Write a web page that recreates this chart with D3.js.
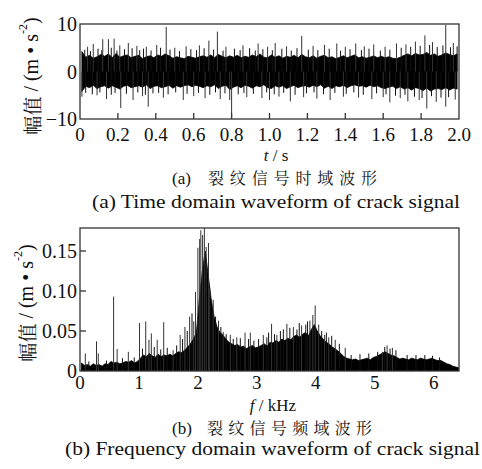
<!DOCTYPE html>
<html><head><meta charset="utf-8">
<script src="https://cdn.jsdelivr.net/npm/d3@7"></script>
<style>
html,body{margin:0;padding:0;background:#fff;}
svg{display:block;}
</style></head><body>
<svg id="chart" width="482" height="469"></svg>
<script>
// ---------- Panel (a): time domain envelope, 0.02 s bins ----------
const timeBin = 0.02;
const timeHi = [4.2,3.0,3.4,2.8,3.1,3.6,3.2,3.7,2.9,3.8, 3.0,3.3,3.5,2.9,3.2,3.4,2.7,3.1,3.3,2.9,
  3.5,3.2,3.7,3.3,2.8,3.1,2.9,2.7,3.2,3.0, 2.8,3.1,3.3,3.0,3.5,2.9,3.6,3.2,2.9,3.3,
  3.0,3.4,2.9,3.2,3.0,3.5,3.1,3.7,3.0,2.9, 3.5,3.0,3.3,2.8,3.2,3.0,3.4,2.9,3.6,3.1,
  2.9,3.3,2.8,3.2,3.4,2.9,3.1,2.7,3.0,3.3, 2.9,3.2,3.5,2.9,3.1,2.8,3.0,3.3,2.9,3.2,
  2.9,3.1,2.8,2.7,3.0,3.4,3.7,3.3,3.8,3.5, 3.6,4.0,3.4,3.7,3.2,3.5,3.9,3.6,3.3,3.7];
const timeLo = [-4.2,-3.1,-3.4,-2.9,-3.6,-3.2,-3.0,-3.5,-3.0,-3.3, -3.7,-3.1,-2.9,-3.4,-3.2,-3.0,-3.3,-2.8,-3.6,-3.1,
  -3.0,-3.4,-3.2,-2.9,-3.5,-3.0,-3.3,-3.0,-2.8,-3.2, -2.9,-3.1,-3.4,-3.0,-3.2,-2.8,-3.6,-3.1,-2.9,-3.8,
  -3.3,-3.0,-3.4,-2.9,-3.1,-3.5,-3.0,-3.2,-2.8,-3.4, -3.6,-3.0,-3.3,-3.0,-3.6,-3.2,-2.9,-3.4,-3.1,-3.0,
  -3.3,-2.9,-3.2,-2.8,-3.5,-3.1,-3.6,-3.0,-3.2,-2.9, -3.4,-3.0,-2.8,-3.1,-3.0,-3.3,-2.9,-3.2,-3.0,-3.4,
  -3.6,-3.3,-3.1,-3.6,-3.2,-3.7,-3.4,-3.9,-3.4,-3.6, -4.0,-3.5,-4.1,-3.7,-3.6,-3.8,-3.4,-3.9,-3.5,-3.7];
// fine hairs sticking out of the solid band
const timeHairT = [0.025,0.055,0.095,0.115,0.165,0.195,0.235,0.275,0.315,0.335,0.375,0.425,0.475,0.525,0.585,0.615,0.655,0.705,0.755,0.815,
  0.845,0.895,0.925,0.965,1.015,1.065,1.115,1.145,1.205,1.255,1.315,1.375,1.425,1.485,1.525,1.585,1.635,1.695,1.745,1.795,1.845,1.885,1.915,1.955,1.99,
  0.03,0.065,0.105,0.165,0.185,0.245,0.305,0.345,0.385,0.415,0.465,0.505,0.565,0.625,0.685,0.715,0.765,0.835,0.865,0.915,
  0.985,1.025,1.075,1.135,1.195,1.235,1.285,1.345,1.405,1.445,1.495,1.565,1.615,1.665,1.715,1.765,1.805,1.855,1.905,1.945];
const timeHairV = [4.6,4.3,4.8,4.5,5.0,4.4,4.7,4.9,4.5,4.8,4.4,5.0,4.6,4.3,4.7,4.5,4.9,4.6,4.4,4.8,
  4.5,4.9,4.4,4.7,4.5,4.8,4.4,4.9,4.6,4.5,4.8,4.4,4.7,4.5,4.8,4.4,4.6,5.0,5.2,5.4,5.6,5.2,5.5,5.1,5.3,
  -4.5,-4.8,-4.4,-4.9,-4.5,-4.7,-4.4,-4.9,-4.6,-4.5,-4.8,-4.4,-4.7,-4.5,-4.9,-4.4,-4.6,-4.8,-4.5,-4.7,
  -4.4,-4.8,-4.5,-4.9,-4.6,-4.4,-4.8,-4.5,-4.7,-4.4,-4.9,-4.6,-4.8,-5.1,-4.9,-5.3,-5.6,-5.2,-5.5,-5.4];
// tall isolated spikes
const timeSpikeT = [0.04,0.07,0.12,0.15,0.18,0.21,0.255,0.30,0.35,0.405,0.455,0.50,0.56,0.63,0.68,0.725,0.77,0.86,0.94,0.99,
  1.03,1.09,1.17,1.23,1.29,1.355,1.40,1.455,1.50,1.55,1.61,1.67,1.72,1.77,1.82,1.86,1.93,1.97,
  0.01,0.09,0.14,0.215,0.28,0.33,0.36,0.44,0.545,0.60,0.66,0.74,0.79,0.80,0.88,0.96,1.00,1.05,1.11,1.18,
  1.25,1.32,1.39,1.47,1.54,1.60,1.635,1.69,1.73,1.79,1.83,1.88,1.93,1.98];
const timeSpikeV = [5.2,5.8,6.8,6.8,6.9,5.5,6.0,5.4,5.2,5.6,9.4,5.0,5.3,5.5,6.5,8.4,5.2,5.5,5.9,5.2,
  6.0,5.3,7.5,5.4,5.6,5.9,5.2,5.9,5.3,5.7,5.2,5.9,5.7,6.3,7.6,6.2,9.8,6.0,
  -5.3,-5.0,-5.8,-7.7,-6.0,-5.2,-7.4,-5.5,-6.0,-5.2,-5.6,-5.8,-6.0,-9.9,-5.4,-5.6,-6.0,-5.3,-6.3,-5.4,
  -5.7,-6.0,-5.3,-5.5,-5.8,-5.4,-6.5,-5.6,-6.3,-6.0,-7.8,-6.4,-7.4,-5.9];
const timeTicks = [0,0.2,0.4,0.6,0.8,1.0,1.2,1.4,1.6,1.8,2.0];
const ampTicksA = [-10,0,10];

// ---------- Panel (b): frequency spectrum envelope, 0.05 kHz bins ----------
const freqBin = 0.05;
const freqPeak = [0.010,0.007,0.008,0.006,0.009,0.007,0.008,0.006,0.009,0.008,
  0.012,0.010,0.011,0.009,0.010,0.012,0.011,0.013,0.010,0.012,
  0.016,0.020,0.018,0.022,0.019,0.017,0.021,0.018,0.020,0.019,
  0.021,0.019,0.022,0.024,0.023,0.026,0.030,0.034,0.040,0.048,
  0.090,0.125,0.150,0.120,0.090,0.068,0.055,0.048,0.045,0.040,
  0.036,0.034,0.032,0.033,0.030,0.031,0.028,0.030,0.032,0.029,
  0.030,0.032,0.034,0.031,0.036,0.035,0.038,0.036,0.040,0.038,
  0.041,0.039,0.043,0.045,0.042,0.046,0.048,0.044,0.052,0.058,
  0.050,0.044,0.040,0.036,0.034,0.030,0.028,0.025,0.022,0.018,
  0.016,0.015,0.014,0.015,0.013,0.014,0.015,0.016,0.014,0.017,
  0.018,0.020,0.022,0.024,0.022,0.020,0.019,0.017,0.015,0.016,
  0.015,0.014,0.016,0.015,0.014,0.016,0.015,0.014,0.015,0.016,
  0.014,0.013,0.013,0.011,0.009,0.008,0.006,0.005,0.004];
const freqHairF = [0.15,0.45,0.72,0.92,1.06,1.26,1.37,1.48,1.64,1.74,1.82,1.90,2.24,2.30,2.39,2.48,2.60,2.72,2.86,2.95,
  3.03,3.17,3.20,3.30,3.40,3.45,3.56,3.68,3.72,3.83,3.86,4.10,4.18,4.27,4.40,4.60,4.75,4.90,5.05,5.17,5.26,5.36,5.55,5.70,5.85,5.98,6.10];
const freqHairV = [0.012,0.013,0.016,0.017,0.028,0.030,0.027,0.029,0.032,0.040,0.050,0.072,0.075,0.068,0.055,0.046,0.040,0.041,0.040,0.038,
  0.040,0.042,0.048,0.046,0.050,0.052,0.054,0.052,0.060,0.058,0.062,0.050,0.048,0.044,0.034,0.020,0.021,0.022,0.024,0.030,0.028,0.026,0.020,0.020,0.020,0.019,0.017];
const freqSpikeF = [0.09,0.28,0.31,0.57,0.63,0.82,1.01,1.115,1.17,1.21,1.31,1.42,1.58,1.70,1.78,1.86,1.93,1.96,
  2.00,2.03,2.05,2.08,2.11,2.14,2.18,2.20,2.26,2.35,2.43,2.55,2.66,2.80,2.89,3.11,3.25,3.34,3.51,3.62,3.76,
  3.90,3.95,3.99,4.05,4.15,4.22,4.33,4.50,5.13,5.21,5.30];
const freqSpikeV = [0.022,0.037,0.022,0.093,0.0275,0.024,0.060,0.062,0.039,0.047,0.039,0.061,0.026,0.045,0.055,0.068,0.062,0.099,
  0.154,0.165,0.176,0.170,0.180,0.155,0.160,0.104,0.089,0.063,0.049,0.045,0.042,0.048,0.048,0.045,0.059,0.045,0.059,0.055,0.057,
  0.063,0.070,0.082,0.058,0.045,0.042,0.039,0.029,0.024,0.032,0.029];
const freqTicks = [0,1,2,3,4,5,6];
const ampTicksB = [0,0.05,0.10,0.15];

const SERIF = '"Liberation Serif", "Times New Roman", serif';
const CJK = '"Noto Serif CJK SC", "Noto Sans CJK SC", serif';
const svg = d3.select("#chart");
const defs = svg.append("defs");

function txt(sel, size, fam){
  return sel.style("font-family", fam || SERIF).style("font-size", size + "px").style("fill", "#111");
}
function frame(g, x0, y0, x1, y1){
  g.append("rect").attr("x",x0).attr("y",y0).attr("width",x1-x0).attr("height",y1-y0)
    .attr("fill","none").attr("stroke","#333").attr("stroke-width",1.3);
}
function ylabel(cx, cy){
  const t = txt(svg.append("text").attr("transform",`translate(${cx},${cy}) rotate(-90)`)
    .attr("text-anchor","middle").attr("dominant-baseline","central"), 20);
  t.append("tspan").style("font-family",CJK).style("font-size","19px").text("幅值");
  t.append("tspan").text(" / (m • s");
  t.append("tspan").attr("dy","-8").style("font-size","12px").text("-2");
  t.append("tspan").attr("dy","8").text(")");
}
function spikes(g, xs, vs, x, y, color){
  g.append("g").selectAll("line").data(xs).join("line")
    .attr("x1",d=>x(d)).attr("x2",d=>x(d)).attr("y1",y(0))
    .attr("y2",(d,i)=>y(vs[i])).attr("stroke",color).attr("stroke-width",1);
}

// ===== Panel (a) =====
const xA = d3.scaleLinear().domain([0,2]).range([80,459]);
const yA = d3.scaleLinear().domain([-10,10]).range([119,24]);
defs.append("clipPath").attr("id","clipA").append("rect").attr("x",80).attr("y",24).attr("width",379).attr("height",95);
const gA = svg.append("g");
const dA = gA.append("g").attr("clip-path","url(#clipA)");
const areaA = d3.area().x((d,i)=>xA(i*timeBin+timeBin/2)).y0((d,i)=>yA(timeLo[i])).y1(d=>yA(d));
dA.append("path").datum(timeHi).attr("d",areaA).attr("fill","#000").attr("stroke","#000").attr("stroke-width",0.8);
spikes(dA, timeHairT, timeHairV, xA, yA, "#111");
spikes(dA, timeSpikeT, timeSpikeV, xA, yA, "#333");
frame(gA,80,24,459,119);
gA.selectAll("line.tk").data(timeTicks.slice(1,-1)).join("line")
  .attr("x1",d=>xA(d)).attr("x2",d=>xA(d)).attr("y1",119).attr("y2",113).attr("stroke","#333").attr("stroke-width",1.3);
txt(gA.selectAll("text.xt").data(timeTicks).join("text")
  .attr("x",d=>xA(d)).attr("y",141).attr("text-anchor","middle"), 19)
  .text(d=>d===0?"0":d3.format(".1f")(d));
txt(gA.selectAll("text.yt").data(ampTicksA).join("text")
  .attr("x",77).attr("y",d=>yA(d)+7).attr("text-anchor","end"), 20)
  .text(d=>d<0?"\u2212"+(-d):d);
const ts = txt(svg.append("text").attr("x",276).attr("y",161).attr("text-anchor","middle"), 17);
ts.append("tspan").style("font-style","italic").text("t");
ts.append("tspan").text(" / s");
txt(svg.append("text").attr("x",172).attr("y",184), 17).text("(a)");
txt(svg.append("text").attr("x",208).attr("y",184).attr("textLength",169).attr("lengthAdjust","spacing"), 16, CJK)
  .text("裂纹信号时域波形");
txt(svg.append("text").attr("x",92).attr("y",208).attr("textLength",368).attr("lengthAdjust","spacingAndGlyphs"), 18)
  .text("(a)  Time domain waveform of crack signal");
ylabel(31,76);

// ===== Panel (b) =====
const xB = d3.scaleLinear().domain([0,6.43]).range([80,459]);
const yB = d3.scaleLinear().domain([0,0.18]).range([371,227]);
defs.append("clipPath").attr("id","clipB").append("rect").attr("x",80).attr("y",228).attr("width",379).attr("height",143);
const gB = svg.append("g");
const dB = gB.append("g").attr("clip-path","url(#clipB)");
const areaB = d3.area().x((d,i)=>xB(i*freqBin+freqBin/2)).y0(yB(0)).y1(d=>yB(d));
dB.append("path").datum(freqPeak).attr("d",areaB).attr("fill","#000").attr("stroke","#000").attr("stroke-width",0.8);
spikes(dB, freqHairF, freqHairV, xB, yB, "#111");
spikes(dB, freqSpikeF, freqSpikeV, xB, yB, "#333");
frame(gB,80,228,459,371);
gB.selectAll("line.tk").data(ampTicksB.slice(1)).join("line")
  .attr("x1",80).attr("x2",86).attr("y1",d=>yB(d)).attr("y2",d=>yB(d)).attr("stroke","#333").attr("stroke-width",1.3);
txt(gB.selectAll("text.xt").data(freqTicks).join("text")
  .attr("x",d=>xB(d)).attr("y",389).attr("text-anchor","middle"), 19).text(d=>d);
txt(gB.selectAll("text.yt").data(ampTicksB).join("text")
  .attr("x",77).attr("y",d=>yB(d)+7).attr("text-anchor","end"), 20)
  .text(d=>d===0?"0":d3.format(".2f")(d));
const fs = txt(svg.append("text").attr("x",273).attr("y",411).attr("text-anchor","middle"), 17);
fs.append("tspan").style("font-style","italic").text("f");
fs.append("tspan").text(" / kHz");
txt(svg.append("text").attr("x",172).attr("y",434), 17).text("(b)");
txt(svg.append("text").attr("x",207).attr("y",434).attr("textLength",165).attr("lengthAdjust","spacing"), 16, CJK)
  .text("裂纹信号频域波形");
txt(svg.append("text").attr("x",65).attr("y",455).attr("textLength",415).attr("lengthAdjust","spacingAndGlyphs"), 18)
  .text("(b)  Frequency domain waveform of crack signal");
ylabel(26,303);
</script>
</body></html>
